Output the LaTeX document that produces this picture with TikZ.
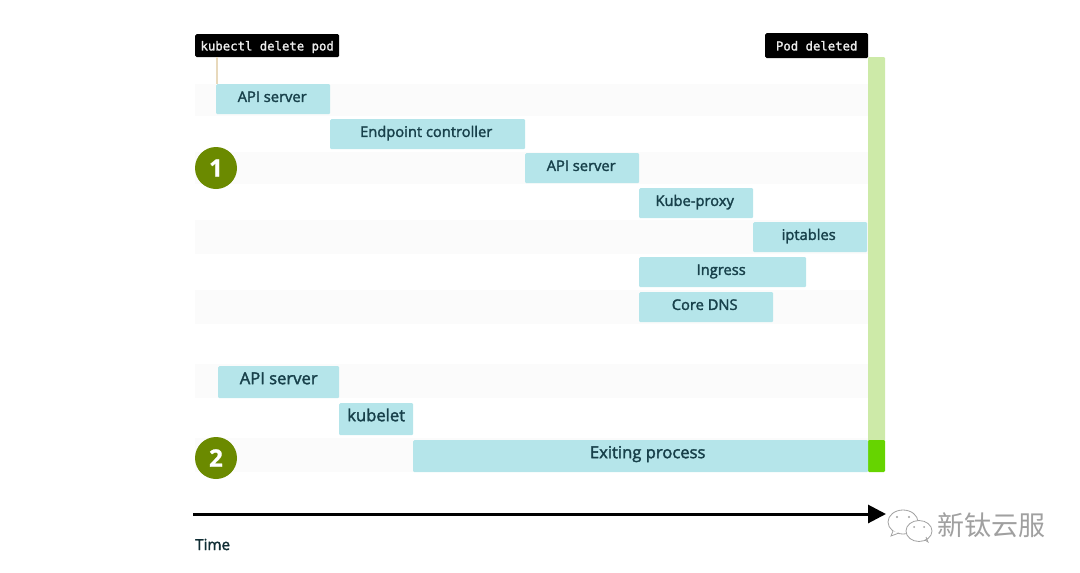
\documentclass[tikz,border=0pt]{standalone}
\usepackage{fontspec}
\setmainfont{Open Sans}
\setmonofont{DejaVu Sans Mono}
\newfontfamily\cjk{Noto Sans CJK SC}
\newfontfamily\taskfont[FakeBold=1.9]{Open Sans}
\newfontfamily\cmdfont[FakeBold=1.6]{DejaVu Sans Mono}
\newfontfamily\badgefont[FakeBold=1.2]{Open Sans Bold}
\usetikzlibrary{arrows.meta}
\definecolor{band}{HTML}{FBFBFB}
\definecolor{task}{HTML}{B5E5EA}
\definecolor{taskink}{HTML}{17404A}
\definecolor{barlight}{HTML}{CDEAA8}
\definecolor{bardark}{HTML}{66D400}
\definecolor{badge}{HTML}{6B8A00}
\definecolor{tanline}{HTML}{E8D9BC}
\definecolor{wmark}{HTML}{A0A0A0}
\tikzset{
  x=1pt,y=-1pt,
  taskbox/.style={fill=task,draw=none,rounded corners=1.2pt,anchor=north west,inner sep=0pt,
    text=taskink,font=\taskfont\fontsize{14.7}{15}\selectfont,
    text height=11pt,text depth=5.5pt,align=center},
  bigtask/.style={taskbox,font=\taskfont\fontsize{16.6}{16}\selectfont,text height=11pt,text depth=7pt},
  cmdbox/.style={fill=black,draw=none,rounded corners=1.5pt,anchor=north west,inner sep=0pt,
    text=white!92!black,font=\cmdfont\fontsize{12.3}{12}\selectfont,
    text height=11.5pt,text depth=2pt},
  stepbadge/.style={circle,fill=badge,draw=none,minimum size=42pt,inner sep=0pt,text=white,
    font=\badgefont\fontsize{24}{24}\selectfont},
  bubble/.style={draw=wmark,line width=0.8pt,fill=white},
}
\begin{document}
\begin{tikzpicture}
\useasboundingbox (0,0) rectangle (1080,573);
% background bands
\foreach \ya/\yb in {84/116,152/184,220/254,290/324,364/398,438/472}
  \fill[band] (195,\ya) rectangle (868,\yb);
% green bar
\fill[barlight,rounded corners=1.2pt] (868,57) rectangle (885,441);
\fill[bardark,rounded corners=1.2pt] (868,440) rectangle (885,472);
% tasks
\node[taskbox,minimum width=114pt,minimum height=30pt] (api1) at (216,84) {\hspace*{-2pt}API server};
\node[taskbox,minimum width=195pt,minimum height=30pt] (endp) at (330,119) {\hspace*{-3pt}Endpoint controller};
\node[taskbox,minimum width=114pt,minimum height=30pt] (api2) at (525,153) {\hspace*{-2pt}API server};
\node[taskbox,minimum width=114pt,minimum height=30pt] (kube) at (639,188) {\hspace*{-3pt}Kube-proxy};
\node[taskbox,minimum width=114pt,minimum height=30pt] (ipt) at (753,222) {\hspace*{-3pt}iptables};
\node[taskbox,minimum width=167pt,minimum height=30pt] (ing) at (639,257) {\hspace*{-3pt}Ingress};
\node[taskbox,minimum width=134pt,minimum height=30pt] (dns) at (639,292) {\hspace*{-3pt}Core DNS};
\node[bigtask,minimum width=121pt,minimum height=32pt] (api3) at (218,366) {API server};
\node[bigtask,minimum width=74pt,minimum height=32pt] (kubelet) at (339,403) {kubelet};
\node[bigtask,minimum width=455pt,minimum height=32pt] (exit) at (413,440) {\hspace*{14pt}Exiting process};
% command labels
\node[cmdbox,minimum width=144pt,minimum height=23pt] (cmd) at (195,34) {kubectl delete pod};
\node[cmdbox,minimum width=103pt,minimum height=25pt] (podd) at (765,33) {Pod deleted};
\draw[tanline,line width=1.8pt] (cmd.south west -| 217,57) -- (api1.north west -| 217,84);
% badges
\node[stepbadge] (one) at (216,168) {1};
\node[stepbadge] (two) at (216,458) {2};
% time axis
\coordinate (t0) at (193,514);
\coordinate (t1) at (886,514);
\draw[line width=3pt,-{Triangle[length=18pt,width=18pt]}] (t0) -- (t1);
\node[anchor=base west,inner sep=0pt,text=taskink!70!black,font=\taskfont\fontsize{15.2}{15}\selectfont] (time) at (195,550) {Time};
% watermark
\begin{scope}
  \draw[bubble] (903,522) ellipse [x radius=15,y radius=12];
  \draw[bubble] (893,531) -- (891,536) -- (899,533);
  \draw[bubble] (919,531) ellipse [x radius=13,y radius=10.5];
  \fill[wmark] (897,517) circle (1.2) (909,517) circle (1.2) (914,527) circle (1) (924,527) circle (1);
  \draw[wmark,line width=0.8pt] (925,540) -- (928,542) -- (926,537);
\end{scope}
\node[anchor=base west,inner sep=0pt,text=wmark,font=\cjk\fontsize{27}{27}\selectfont] (mark) at (937,535) {新钛云服};
\end{tikzpicture}
\end{document}
